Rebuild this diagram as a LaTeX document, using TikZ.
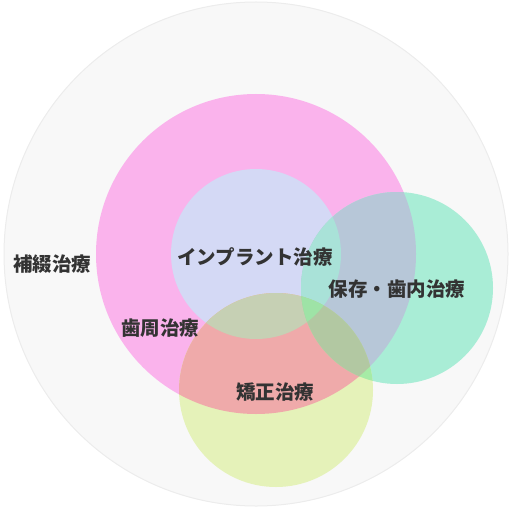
\documentclass[tikz,border=0pt]{standalone}
\usepackage{fontspec}
\newfontfamily\jp{Noto Sans CJK JP}
\definecolor{cBG}{HTML}{F8F8F8}
\definecolor{cRim}{HTML}{ECECEC}
\definecolor{cP}{HTML}{FAB3EC}
\definecolor{cL}{HTML}{D4D9F5}
\definecolor{cG}{HTML}{A9EDD6}
\definecolor{cY}{HTML}{E5F2B9}
\definecolor{cPY}{HTML}{EFAAAA}
\definecolor{cLY}{HTML}{C6D0B4}
\definecolor{cPG}{HTML}{B7C7D8}
\definecolor{cLG}{HTML}{A9E2D8}
\definecolor{cGY}{HTML}{A6EBA6}
\definecolor{cPGY}{HTML}{B2C8A2}
\definecolor{cLGY}{HTML}{9EE3A6}
\definecolor{cTxt}{HTML}{333333}
\tikzset{
  lbl/.style={font=\jp\bfseries\fontsize{19.5}{20}\selectfont, text=cTxt, inner sep=0pt, anchor=center}
}
\begin{document}
\begin{tikzpicture}[x=1pt,y=-1pt]
\useasboundingbox (0,0) rectangle (513,508);
\coordinate (cO) at (256,254);
\coordinate (cPc) at (256,254);
\coordinate (cLc) at (256,254);
\coordinate (cGc) at (397,288);
\coordinate (cYc) at (276,390);
\def\rO{252}\def\rP{160}\def\rL{85}\def\rG{96}\def\rY{97}
% outer circle
\filldraw[fill=cBG, draw=cRim, line width=1pt] (cO) circle (\rO);
% base circles
\fill[cP] (cPc) circle (\rP);
\fill[cL] (cLc) circle (\rL);
\fill[cG] (cGc) circle (\rG);
\fill[cY] (cYc) circle (\rY);
% pairwise overlaps with pink
\begin{scope}
  \clip (cPc) circle (\rP);
  \fill[cPG] (cGc) circle (\rG);
  \fill[cPY] (cYc) circle (\rY);
\end{scope}
% pairwise overlaps with lavender
\begin{scope}
  \clip (cLc) circle (\rL);
  \fill[cLG] (cGc) circle (\rG);
  \fill[cLY] (cYc) circle (\rY);
\end{scope}
% green / yellow overlaps
\begin{scope}
  \clip (cGc) circle (\rG);
  \fill[cGY] (cYc) circle (\rY);
  \clip (cPc) circle (\rP);
  \fill[cPGY] (cYc) circle (\rY);
  \clip (cLc) circle (\rL);
  \fill[cLGY] (cYc) circle (\rY);
\end{scope}
% labels
\node[lbl] (hotetsu) at (52,264) {補綴治療};
\node[lbl] (implant) at (255,257) {インプラント治療};
\node[lbl] (hozon) at (397,289) {保存・歯内治療};
\node[lbl] (shishu) at (160,328) {歯周治療};
\node[lbl] (kyousei) at (275,392) {矯正治療};
\end{tikzpicture}
\end{document}
